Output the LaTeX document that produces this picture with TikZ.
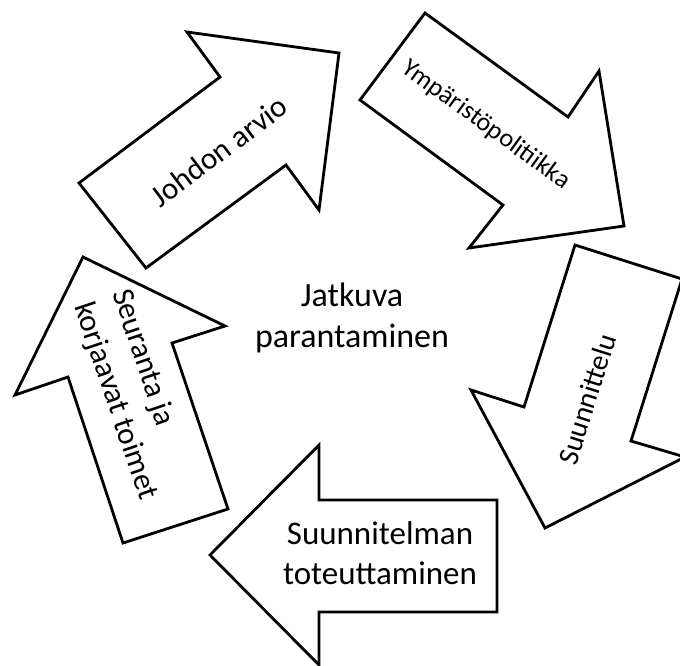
\documentclass[tikz,border=0pt]{standalone}
\usepackage{fontspec}
\setmainfont{Carlito}
\begin{document}
\begin{tikzpicture}[x=1pt,y=-1pt,
  blockarrow/.style={draw=black,line width=2.8pt,fill=white,line join=miter},
  arrowtext/.style={inner sep=0pt,text=black},
  bigtext/.style={arrowtext,font=\fontsize{33}{40}\selectfont},
  midtext/.style={arrowtext,font=\fontsize{30}{37}\selectfont},
  smalltext/.style={arrowtext,font=\fontsize{26}{31}\selectfont}]
\useasboundingbox (0,0) rectangle (680,665);
\clip (0,0) rectangle (680,665);

% five block arrows arranged in a cycle
\path[blockarrow] (79,183) -- (220,77) -- (187,32) -- (339,53) -- (319,210) -- (286,165) -- (146,268) -- cycle;
\path[blockarrow] (425,13) -- (568,117) -- (599,71) -- (624,226) -- (469,248) -- (503,205) -- (360,100) -- cycle;
\path[blockarrow] (575,245) -- (682,279) -- (631,441) -- (685,457) -- (545,528) -- (471,390) -- (524,407) -- cycle;
\path[blockarrow] (497,500) -- (497,612) -- (319,612) -- (319,665) -- (210,555) -- (319,445) -- (319,500) -- cycle;
\path[blockarrow] (83,257) -- (225,326) -- (172,343) -- (228,509) -- (123,543) -- (68,377) -- (15,395) -- cycle;

% labels
\node[midtext,font=\fontsize{31}{37}\selectfont,rotate=36.9] (johdon) at (219,151) {Johdon arvio};
\node[smalltext,rotate=-36] (ymparisto) at (486,125) {Ympäristöpolitiikka};
\node[arrowtext,font=\fontsize{29}{34}\selectfont,rotate=72.5] (suunnittelu) at (587,399) {Suunnittelu};
\node[bigtext,align=center] (toteutus) at (380,553) {Suunnitelman\\toteuttaminen};
\node[midtext,font=\fontsize{31}{40}\selectfont,align=left,rotate=-71.4] (seuranta) at (134,395) {Seuranta ja\\korjaavat toimet};
\node[arrowtext,font=\fontsize{34}{41}\selectfont,align=center] (keskus) at (352,318) {Jatkuva\\parantaminen};
\end{tikzpicture}
\end{document}
